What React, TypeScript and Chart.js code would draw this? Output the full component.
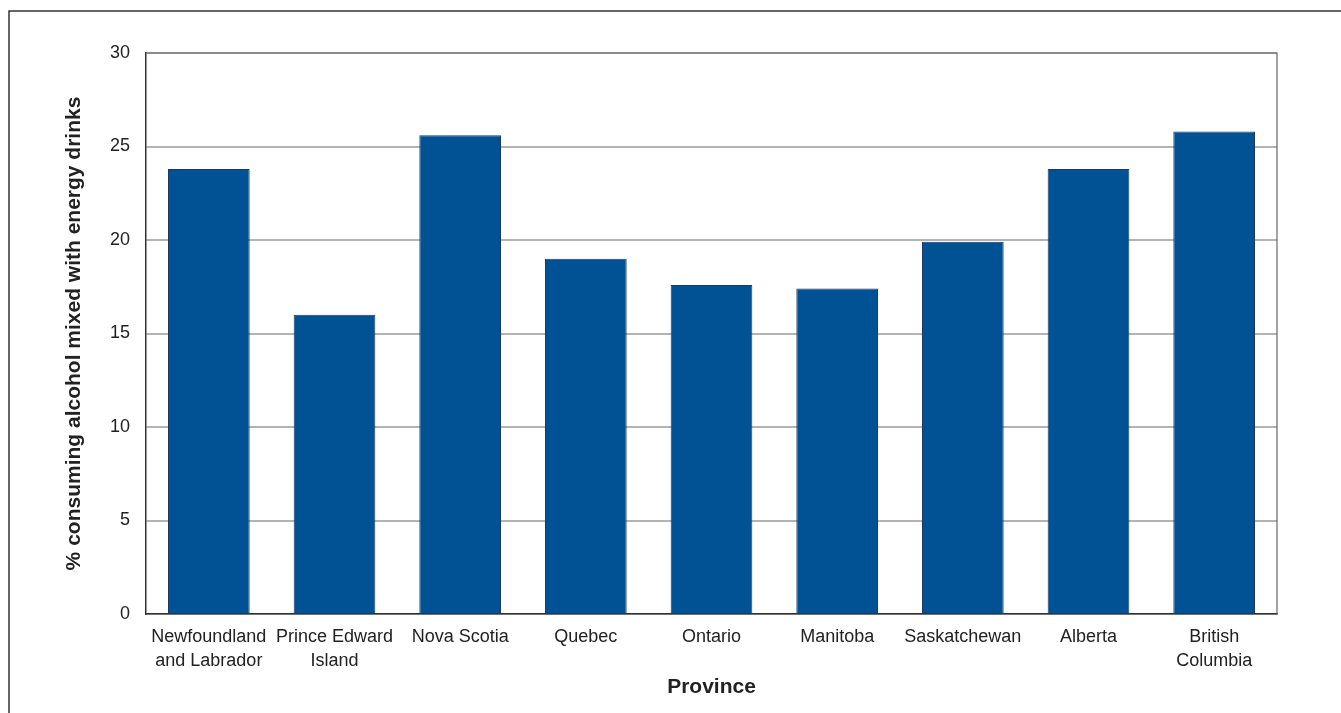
import React, { useEffect, useRef } from "react";
import { Chart, registerables } from "chart.js";

Chart.register(...registerables);

const provinces: (string | string[])[] = [
  ["Newfoundland", "and Labrador"],
  ["Prince Edward", "Island"],
  "Nova Scotia",
  "Quebec",
  "Ontario",
  "Manitoba",
  "Saskatchewan",
  "Alberta",
  ["British", "Columbia"],
];
const percentValues: number[] = [23.8, 16.0, 25.6, 19.0, 17.6, 17.4, 19.9, 23.8, 25.8];
const yTickMin = 0;
const yTickMax = 30;
const yTickStep = 5;
const yTitle = "% consuming alcohol mixed with energy drinks";
const xTitle = "Province";

const FONT = "'Liberation Sans', Arial, Helvetica, sans-serif";

const framePlugin = {
  id: "frameLines",
  beforeDraw(chart: any) {
    const ctx = chart.ctx;
    ctx.save();
    ctx.strokeStyle = "#333";
    ctx.lineWidth = 1.5;
    ctx.beginPath();
    ctx.moveTo(9, 713);
    ctx.lineTo(9, 11);
    ctx.lineTo(1341, 11);
    ctx.stroke();
    ctx.restore();
  },
  afterDatasetsDraw(chart: any) {
    const { ctx, chartArea } = chart;
    ctx.save();
    ctx.strokeStyle = "#666";
    ctx.lineWidth = 1.2;
    ctx.beginPath();
    ctx.moveTo(chartArea.left, chartArea.top);
    ctx.lineTo(chartArea.right, chartArea.top);
    ctx.lineTo(chartArea.right, chartArea.bottom);
    ctx.stroke();
    ctx.restore();
  },
};

export default function App() {
  const ref = useRef<HTMLCanvasElement | null>(null);
  useEffect(() => {
    document.body.style.margin = "0";
    document.body.style.overflow = "hidden";
    const canvas = ref.current;
    if (!canvas) return;
    const chart = new Chart(canvas, {
      type: "bar",
      data: {
        labels: provinces,
        datasets: [
          {
            data: percentValues,
            backgroundColor: "#005294",
            borderColor: "#1d3a5e",
            borderWidth: 1,
            barPercentage: 0.65,
            categoryPercentage: 1,
          },
        ],
      },
      options: {
        animation: false,
        responsive: false,
        devicePixelRatio: 1,
        layout: { padding: { left: 0, top: 53, right: 64, bottom: 0 } },
        plugins: { legend: { display: false }, tooltip: { enabled: false } },
        scales: {
          x: {
            grid: { display: false, drawTicks: false },
            border: { color: "#333", width: 1.5 },
            ticks: {
              color: "#222",
              font: { family: FONT, size: 18, lineHeight: 1.28 },
              padding: 12,
              maxRotation: 0,
              autoSkip: false,
            },
            title: {
              display: true,
              text: xTitle,
              color: "#222",
              font: { family: FONT, size: 21, weight: "bold" },
              padding: { top: 0, bottom: 13 },
            },
            afterFit(scale: any) {
              scale.height = 99;
            },
          },
          y: {
            min: yTickMin,
            max: yTickMax,
            grid: { color: "#b3b3b3", lineWidth: 2, drawTicks: false },
            border: { color: "#333", width: 1.5 },
            ticks: {
              stepSize: yTickStep,
              color: "#222",
              font: { family: FONT, size: 18 },
              padding: 16,
            },
            title: {
              display: true,
              text: yTitle,
              color: "#222",
              font: { family: FONT, size: 21, weight: "bold" },
              padding: { top: 62, bottom: 0 },
            },
            afterFit(scale: any) {
              scale.width = 146;
            },
          },
        },
      },
      plugins: [framePlugin],
    });
    return () => chart.destroy();
  }, []);
  return <canvas ref={ref} width={1341} height={713} style={{ display: "block" }} />;
}
